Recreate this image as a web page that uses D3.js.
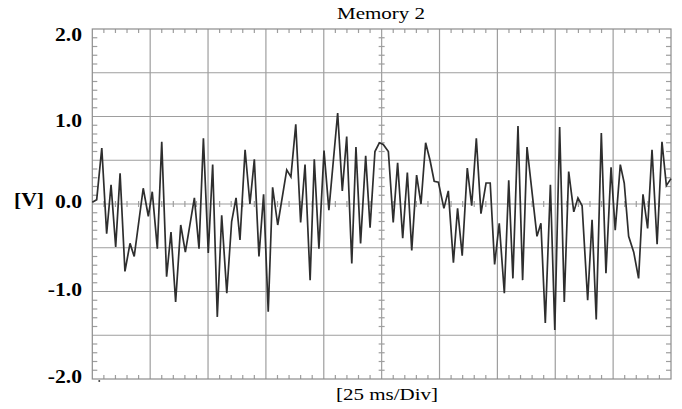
<!DOCTYPE html>
<html>
<head>
<meta charset="utf-8">
<script src="https://cdn.jsdelivr.net/npm/d3@7"></script>
<style>
  body { margin: 0; background: #fff; }
  text { font-family: "Liberation Serif", "Times New Roman", serif; fill: #000; }
</style>
</head>
<body>
<svg id="chart" width="682" height="409"></svg>
<script>
// time of each sample (ms) and voltage (V)
var times = [0, 1.9, 4.1, 6.2, 8.1, 10.1, 12.0, 14.1, 16.3, 18.1, 22.0, 24.2, 25.9, 28.1, 30.0,
  32.1, 34.0, 36.0, 38.2, 40.2, 44.1, 46.1, 48.0, 50.1, 52.0, 54.0, 55.9, 58.1, 60.2, 62.1,
  63.8, 66.0, 68.1, 70.0, 72.0, 74.0, 76.0, 77.9, 80.1, 84.0, 85.8, 87.9, 90.0, 91.9, 94.1,
  95.9, 97.9, 100.1, 102.2, 106.0, 108.0, 109.9, 112.1, 113.9, 115.9, 118.1, 120.0, 122.1,
  124.0, 125.7, 127.9, 130.0, 131.9, 134.1, 136.1, 138.0, 140.1, 142.0, 144.0, 145.9, 147.7,
  149.5, 151.9, 153.8, 156.0, 157.8, 159.8, 162.0, 163.9, 165.9, 167.9, 170.1, 171.9, 173.8,
  175.8, 178.0, 179.9, 181.7, 183.9, 185.9, 187.8, 192.1, 193.8, 195.7, 197.9, 199.8, 201.9,
  203.9, 205.8, 208.0, 209.8, 211.6, 214.0, 215.9, 217.7, 219.9, 221.9, 224.1, 225.9, 228.1,
  229.8, 231.7, 233.9, 236.0, 237.9, 239.9, 241.8, 244.0, 246.1, 248.0, 250.0];
var volts = [0.02, 0.05, 0.64, -0.34, 0.22, -0.49, 0.35, -0.77, -0.45, -0.60, 0.18, -0.14, 0.14, -0.51, 0.71,
  -0.83, -0.32, -1.12, -0.24, -0.55, 0.07, -0.51, 0.75, -0.56, 0.45, -1.29, -0.13, -1.02, -0.20, 0.07,
  -0.41, 0.62, 0.0, 0.51, -0.60, 0.11, -1.23, 0.19, -0.24, 0.39, 0.31, 0.91, -0.21, 0.45, -0.87,
  0.51, -0.51, 0.61, -0.07, 1.04, 0.15, 0.77, -0.68, 0.65, -0.45, 0.55, -0.27, 0.60,
  0.70, 0.68, 0.60, -0.21, 0.47, -0.39, 0.36, -0.53, 0.33, 0.0, 0.70, 0.50, 0.26,
  0.25, -0.05, 0.15, -0.67, -0.05, -0.59, 0.41, -0.02, 0.75, -0.11, 0.24, 0.24, -0.69,
  -0.22, -1.02, 0.27, -0.85, 0.89, -0.87, 0.65, -0.37, -0.22, -1.36, 0.22, -1.44, 0.88,
  -1.12, 0.37, -0.09, 0.07, -0.02, -1.10, -0.18, -1.32, 0.81, -0.79, 0.42, -0.30, 0.45,
  0.24, -0.37, -0.55, -0.85, 0.11, -0.28, 0.62, -0.46, 0.71, 0.21, 0.29];

var yLabels = [-2, -1, 0, 1, 2];
var title = "Memory 2";
var xTitle = "[25 ms/Div]";
var yTitle = "[V]";

var svg = d3.select("#chart");
var plotL = 92.3, plotR = 671, plotT = 29, plotB = 379;

var x = d3.scaleLinear().domain([0, 250]).range([plotL, plotR]);
var y = d3.scaleLinear().domain([-2, 2]).range([plotB, plotT]);

var gridColor = "#9e9e9e";

// grid
svg.append("g").selectAll("line").data(d3.range(25, 250, 25))
  .enter().append("line")
    .attr("x1", function(d) { return x(d); }).attr("x2", function(d) { return x(d); })
    .attr("y1", plotT).attr("y2", plotB)
    .attr("stroke", gridColor).attr("stroke-width", 1.2);
svg.append("g").selectAll("line").data(d3.range(-1.5, 2, 0.5))
  .enter().append("line")
    .attr("y1", function(d) { return y(d); }).attr("y2", function(d) { return y(d); })
    .attr("x1", plotL).attr("x2", plotR)
    .attr("stroke", gridColor).attr("stroke-width", 1.2);

// minor ticks
var minorX = d3.range(5, 250, 5).filter(function(d) { return d % 25 != 0; });
var minorY = d3.range(-19, 20, 1).map(function(d) { return d / 10; }).filter(function(d) { return Math.round(d * 10) % 5 != 0; });

function tickRow(data, isX, pos, from, to) {
  svg.append("g").selectAll("line").data(data)
    .enter().append("line")
      .attr(isX ? "x1" : "y1", function(d) { return isX ? x(d) : y(d); })
      .attr(isX ? "x2" : "y2", function(d) { return isX ? x(d) : y(d); })
      .attr(isX ? "y1" : "x1", pos + from)
      .attr(isX ? "y2" : "x2", pos + to)
      .attr("stroke", gridColor).attr("stroke-width", 1.2);
}
tickRow(minorX, true, plotT, 0, 4);
tickRow(minorX, true, plotB, -4, 0);
tickRow(minorX, true, y(0), -3, 3);
tickRow(minorY, false, plotL, 0, 5);
tickRow(minorY, false, plotR, -5, 0);
tickRow(minorY, false, x(125), -3, 3);

// frame
svg.append("rect")
  .attr("x", plotL).attr("y", plotT)
  .attr("width", plotR - plotL).attr("height", plotB - plotT)
  .attr("fill", "none").attr("stroke", "#8c8c8c").attr("stroke-width", 1.2);

// trigger mark under the frame
svg.append("circle")
  .attr("cx", x(3)).attr("cy", plotB + 2).attr("r", 1)
  .attr("fill", "#444");

// trace
var line = d3.line()
  .x(function(d, i) { return x(times[i]); })
  .y(function(d) { return y(d); });
svg.append("path")
  .datum(volts)
  .attr("d", line)
  .attr("fill", "none")
  .attr("stroke", "#2e2e2e")
  .attr("stroke-width", 1.7)
  .attr("stroke-linejoin", "miter");

// texts (scope font is stretched sideways a bit)
function label(txt, cx, cy, size, weight, anchor) {
  svg.append("text")
    .attr("transform", "translate(" + cx + "," + cy + ") scale(1.2,1)")
    .attr("text-anchor", anchor)
    .attr("dominant-baseline", "central")
    .style("font-size", size + "px")
    .style("font-weight", weight)
    .text(txt);
}

yLabels.forEach(function(d) {
  var off = d == 2 ? 6 : (d == 1 ? 4 : -2);
  label(d.toFixed(1), 82, y(d) + off, 18, "bold", "end");
});
label(yTitle, 29, 200, 18, "bold", "middle");
label(title, 381, 13, 17.5, "normal", "middle");
label(xTitle, 387, 394, 17.5, "normal", "middle");
</script>
</body>
</html>
